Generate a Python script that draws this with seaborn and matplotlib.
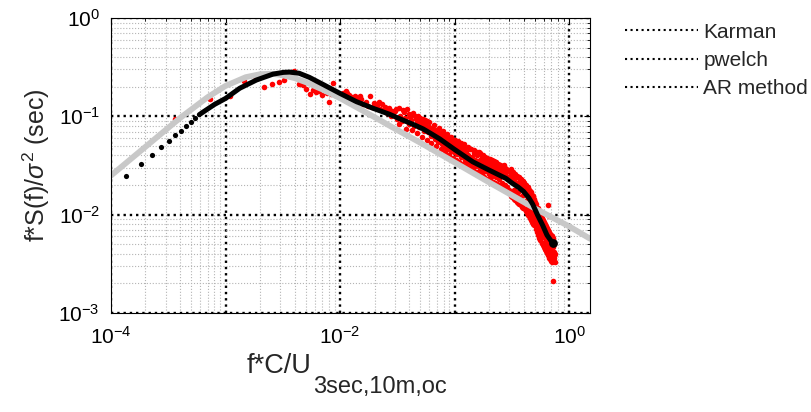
import numpy as np
import matplotlib
matplotlib.use("Agg")
import matplotlib.pyplot as plt
from matplotlib.lines import Line2D
from matplotlib.ticker import LogLocator, FuncFormatter, NullFormatter
import seaborn as sns

# Karman model (grey curve)
karman_f = [1e-4, 2e-4, 4e-4, 7e-4, 1e-3, 1.5e-3, 2e-3, 2.5e-3, 3e-3, 4e-3, 5e-3,
            7e-3, 1e-2, 2e-2, 3e-2, 5e-2, 0.1, 0.2, 0.3, 0.5, 1.0, 1.52]
karman_s = [0.025, 0.049, 0.096, 0.157, 0.204, 0.250, 0.268, 0.271, 0.265, 0.245, 0.223,
            0.188, 0.153, 0.098, 0.075, 0.054, 0.034, 0.0213, 0.0163, 0.0116, 0.0076, 0.0057]

# AR method: separate points at the lowest frequencies ...
ar_dots_f = [1.36e-4, 1.82e-4, 2.27e-4, 2.73e-4, 3.18e-4, 3.64e-4, 4.09e-4, 4.55e-4, 5.0e-4, 5.46e-4]
ar_dots_s = [0.0245, 0.0325, 0.0404, 0.0483, 0.0565, 0.064, 0.0714, 0.079, 0.0875, 0.096]
# ... then points so dense they read as a thick curve
ar_line_f = [5.9e-4, 6.4e-4, 8.0e-4, 1.0e-3, 1.33e-3, 1.86e-3, 2.6e-3, 3.2e-3, 3.63e-3, 4.4e-3,
             5.4e-3, 7.1e-3, 0.010, 0.0139, 0.0193, 0.027, 0.035, 0.0447, 0.053, 0.0625,
             0.074, 0.100, 0.144, 0.200, 0.280, 0.320, 0.360, 0.400, 0.445, 0.480,
             0.530, 0.587, 0.640, 0.720]
ar_line_s = [0.104, 0.111, 0.132, 0.152, 0.193, 0.234, 0.269, 0.280, 0.282, 0.274,
             0.249, 0.211, 0.171, 0.141, 0.121, 0.105, 0.092, 0.0816, 0.0745, 0.0665,
             0.059, 0.046, 0.0345, 0.0284, 0.0234, 0.0208, 0.019, 0.0172, 0.0148, 0.0128,
             0.0099, 0.0078, 0.0062, 0.0051]

# pwelch estimate (red points)
pwelch_f = [
    3.63e-4, 7.26e-4, 1.09e-3, 1.45e-3, 1.82e-3, 2.18e-3, 2.54e-3, 2.90e-3, 3.27e-3, 3.63e-3,
    3.99e-3, 4.36e-3, 4.72e-3, 5.08e-3, 5.45e-3, 5.81e-3, 6.17e-3, 6.53e-3, 6.90e-3, 7.26e-3,
    7.62e-3, 7.99e-3, 8.35e-3, 8.71e-3, 9.08e-3, 9.44e-3, 9.80e-3, 0.0102, 0.0105, 0.0109,
    0.0113, 0.0116, 0.0120, 0.0123, 0.0127, 0.0131, 0.0134, 0.0138, 0.0142, 0.0145,
    0.0149,
    0.0152, 0.0160, 0.0167, 0.0175, 0.0182, 0.0189, 0.0196, 0.0204, 0.0211, 0.0218,
    0.0225, 0.0233, 0.0240, 0.0247, 0.0255, 0.0262, 0.0269, 0.0276, 0.0284, 0.0291,
    0.0300, 0.0312, 0.0324, 0.0336, 0.0348, 0.0360, 0.0372, 0.0384, 0.0396, 0.0408,
    0.0420, 0.0432, 0.0444, 0.0456, 0.0468, 0.0480, 0.0492, 0.0504, 0.0516, 0.0528,
    0.0540, 0.0552, 0.0564, 0.0576, 0.0588,
    0.0600, 0.0617, 0.0634, 0.0651, 0.0668, 0.0685, 0.0702, 0.0719, 0.0736, 0.0753,
    0.0770, 0.0787, 0.0804, 0.0821, 0.0838, 0.0855, 0.0872, 0.0889, 0.0906, 0.0923,
    0.0940, 0.0957, 0.0974, 0.0991, 0.1008, 0.1025, 0.1042, 0.1059, 0.1076, 0.1093,
    0.1110, 0.1127, 0.1144, 0.1161, 0.1178,
    0.120, 0.123, 0.126, 0.129, 0.132, 0.135, 0.138, 0.141, 0.144, 0.147,
    0.150, 0.153, 0.156, 0.159, 0.162, 0.165, 0.168, 0.171, 0.174, 0.177,
    0.180, 0.183, 0.186, 0.189, 0.192, 0.195, 0.198, 0.201, 0.204, 0.207,
    0.210, 0.213, 0.216, 0.219, 0.222, 0.225, 0.228, 0.231, 0.234, 0.237,
    0.240, 0.243, 0.246, 0.249, 0.252,
    0.255, 0.260, 0.264, 0.269, 0.273, 0.278, 0.282, 0.287, 0.292, 0.296,
    0.301, 0.305, 0.310, 0.315, 0.319, 0.324, 0.328, 0.333, 0.338, 0.342,
    0.347, 0.351, 0.356, 0.360, 0.365, 0.370, 0.374, 0.379, 0.383, 0.388,
    0.393, 0.397, 0.402, 0.406, 0.411, 0.416, 0.420, 0.425, 0.429, 0.434,
    0.438, 0.443, 0.448, 0.452, 0.457, 0.461, 0.466, 0.471, 0.475, 0.480,
    0.484, 0.489, 0.494, 0.498,
    0.503, 0.508, 0.514, 0.519, 0.525, 0.530, 0.536, 0.541, 0.547, 0.552,
    0.558, 0.563, 0.569, 0.574, 0.580, 0.585, 0.591, 0.596, 0.602, 0.607,
    0.613, 0.618, 0.624, 0.629, 0.635, 0.640, 0.646, 0.651, 0.657, 0.662,
    0.668, 0.673, 0.679, 0.684, 0.690, 0.695, 0.701, 0.706, 0.712, 0.717,
    0.723, 0.728, 0.734, 0.739, 0.745,
]
pwelch_s = [
    0.095, 0.150, 0.162, 0.229, 0.259, 0.197, 0.213, 0.223, 0.236, 0.275,
    0.289, 0.213, 0.207, 0.188, 0.169, 0.185, 0.178, 0.182, 0.165, 0.193,
    0.174, 0.139, 0.169, 0.216, 0.166, 0.172, 0.161, 0.158, 0.171, 0.166,
    0.182, 0.174, 0.165, 0.150, 0.156, 0.148, 0.161, 0.153, 0.142, 0.149,
    0.161,
    0.149, 0.133, 0.141, 0.127, 0.162, 0.124, 0.136, 0.127, 0.131, 0.141,
    0.118, 0.133, 0.112, 0.125, 0.109, 0.116, 0.122, 0.101, 0.113, 0.104,
    0.112, 0.095, 0.121, 0.101, 0.089, 0.110, 0.097, 0.118, 0.084, 0.099,
    0.091, 0.107, 0.079, 0.094, 0.086, 0.101, 0.077, 0.089, 0.082, 0.095,
    0.071, 0.084, 0.078, 0.090, 0.069,
    0.078, 0.063, 0.074, 0.067, 0.059, 0.072, 0.064, 0.055, 0.068, 0.060,
    0.052, 0.066, 0.058, 0.049, 0.061, 0.054, 0.047, 0.059, 0.051, 0.044,
    0.056, 0.048, 0.053, 0.043, 0.051, 0.046, 0.055, 0.041, 0.049, 0.044,
    0.052, 0.039, 0.047, 0.042, 0.050,
    0.046, 0.036, 0.043, 0.034, 0.040, 0.047, 0.033, 0.039, 0.030, 0.042,
    0.036, 0.031, 0.040, 0.034, 0.043, 0.029, 0.036, 0.032, 0.039, 0.027,
    0.034, 0.030, 0.037, 0.028, 0.033, 0.036, 0.026, 0.031, 0.035, 0.028,
    0.033, 0.025, 0.030, 0.034, 0.027, 0.031, 0.024, 0.029, 0.033, 0.026,
    0.030, 0.023, 0.028, 0.032, 0.025,
    0.030, 0.021, 0.027, 0.032, 0.020, 0.026, 0.029, 0.019, 0.024, 0.028,
    0.018, 0.025, 0.029, 0.017, 0.023, 0.027, 0.018, 0.022, 0.026, 0.016,
    0.021, 0.025, 0.017, 0.020, 0.024, 0.015, 0.021, 0.023, 0.014, 0.019,
    0.022, 0.016, 0.018, 0.021, 0.013, 0.017, 0.020, 0.014, 0.016, 0.019,
    0.012, 0.015, 0.018, 0.011, 0.014, 0.016, 0.012, 0.0145, 0.0105, 0.013,
    0.0155, 0.0098, 0.012, 0.014,
    0.0088, 0.0126, 0.0102, 0.0079, 0.0115, 0.0092, 0.0071, 0.0104, 0.0084, 0.0063,
    0.0097, 0.0076, 0.0058, 0.0089, 0.0069, 0.0052, 0.0083, 0.0064, 0.0048, 0.0078,
    0.0059, 0.0045, 0.0072, 0.0055, 0.0042, 0.0068, 0.0051, 0.0040, 0.0126, 0.0047,
    0.0098, 0.0038, 0.0057, 0.0044, 0.0036, 0.0053, 0.0041, 0.0034, 0.0060, 0.0039,
    0.0021, 0.0047, 0.0036, 0.0042, 0.0033,
]

# pwelch points along the upper and lower edges of the dense band
pwelch_edge_f = [
    0.0306, 0.0330, 0.0354, 0.0378, 0.0402, 0.0426, 0.0450, 0.0474, 0.0498, 0.0522,
    0.0546, 0.0570, 0.0594, 0.0626, 0.0660, 0.0694, 0.0728, 0.0762, 0.0796, 0.0830,
    0.0864, 0.0898, 0.0932, 0.0966, 0.1000, 0.1034, 0.1068, 0.1102, 0.1136, 0.1170,
    0.1215, 0.1260, 0.1305, 0.1350, 0.1395, 0.1440, 0.1485, 0.1530, 0.1575, 0.1620,
    0.1665, 0.1710, 0.1755, 0.1800, 0.1845, 0.1890, 0.1935, 0.1980, 0.2025, 0.2070,
    0.2115, 0.2160, 0.2205, 0.2250, 0.2295, 0.2340, 0.2385, 0.2430, 0.2475, 0.2520,
    0.2565, 0.2610, 0.2655, 0.2700, 0.2745, 0.2790, 0.2835, 0.2880, 0.2925, 0.2970,
    0.3025, 0.3075, 0.3125, 0.3175, 0.3225, 0.3275, 0.3325, 0.3375, 0.3425, 0.3475,
    0.3525, 0.3575, 0.3625, 0.3675, 0.3725, 0.3775, 0.3825, 0.3875, 0.3925, 0.3975,
    0.4025, 0.4075, 0.4125, 0.4175, 0.4225, 0.4275, 0.4325, 0.4375, 0.4425, 0.4475,
    0.4525, 0.4575, 0.4625, 0.4675, 0.4725, 0.4775, 0.4825, 0.4875, 0.4925, 0.4975,
    0.5056, 0.5118, 0.5180, 0.5242, 0.5304, 0.5366, 0.5428, 0.5490, 0.5552, 0.5614,
    0.5676, 0.5738, 0.5800, 0.5862, 0.5924, 0.5986, 0.6048, 0.6110, 0.6172, 0.6234,
    0.6296, 0.6358, 0.6420, 0.6482, 0.6544, 0.6606, 0.6668, 0.6730, 0.6792, 0.6854,
    0.6916, 0.6978, 0.7040, 0.7102, 0.7164, 0.7226, 0.7288, 0.7350, 0.7412, 0.7474,
]
pwelch_edge_s = [
    0.119, 0.083, 0.115, 0.074, 0.106, 0.072, 0.100, 0.067, 0.096, 0.062,
    0.091, 0.058, 0.087, 0.054, 0.081, 0.050, 0.076, 0.046, 0.071, 0.043,
    0.066, 0.040, 0.062, 0.038, 0.058, 0.036, 0.056, 0.034, 0.053, 0.033,
    0.052, 0.031, 0.049, 0.030, 0.047, 0.028, 0.045, 0.027, 0.043, 0.026,
    0.042, 0.025, 0.040, 0.024, 0.039, 0.023, 0.038, 0.023, 0.037, 0.022,
    0.036, 0.0215, 0.035, 0.021, 0.034, 0.0205, 0.033, 0.020, 0.032, 0.0195,
    0.031, 0.019, 0.030, 0.0185, 0.0295, 0.018, 0.029, 0.0175, 0.028, 0.017,
    0.028, 0.0155, 0.027, 0.015, 0.026, 0.0145, 0.0255, 0.014, 0.025, 0.0135,
    0.024, 0.013, 0.0235, 0.0128, 0.023, 0.0125, 0.022, 0.012, 0.0215, 0.0118,
    0.021, 0.0113, 0.020, 0.011, 0.0195, 0.0105, 0.019, 0.010, 0.018, 0.0097,
    0.0175, 0.0093, 0.017, 0.0089, 0.016, 0.0085, 0.0155, 0.0081, 0.0145, 0.0078,
    0.0135, 0.0071, 0.0127, 0.0066, 0.0118, 0.0062, 0.0110, 0.0058, 0.0104, 0.0055,
    0.0099, 0.0052, 0.0093, 0.0049, 0.0088, 0.0047, 0.0084, 0.0045, 0.0080, 0.0043,
    0.0076, 0.0041, 0.0073, 0.0039, 0.0070, 0.0038, 0.0067, 0.0036, 0.0064, 0.0035,
    0.0062, 0.0034, 0.0060, 0.0033, 0.0058, 0.0035, 0.0056, 0.0038, 0.0050, 0.0040,
]

legend_labels = ["Karman", "pwelch", "AR method"]

sns.set_style("white")
plt.rcParams["font.family"] = ["Liberation Sans", "DejaVu Sans"]
plt.rcParams["mathtext.fontset"] = "custom"
plt.rcParams["mathtext.rm"] = "Liberation Sans"
plt.rcParams["mathtext.it"] = "Liberation Sans:italic"
plt.rcParams["mathtext.sf"] = "Liberation Sans"

fig = plt.figure(figsize=(8.12, 4.12), dpi=100)
ax = fig.add_axes([0.1367, 0.2403, 0.5899, 0.7160])
ax.set_xscale("log")
ax.set_yscale("log")

red_f = pwelch_f + pwelch_edge_f
red_s = pwelch_s + pwelch_edge_s

sns.lineplot(x=karman_f, y=karman_s, ax=ax, color="#c8c8c8", lw=4.2,
             sort=False, estimator=None)
sns.scatterplot(x=red_f, y=red_s, ax=ax, color="red", s=16, linewidth=0)
sns.scatterplot(x=ar_dots_f, y=ar_dots_s, ax=ax, color="black", s=14, linewidth=0)
sns.lineplot(x=ar_line_f, y=ar_line_s, ax=ax, color="black", lw=3.6,
             sort=False, estimator=None, solid_capstyle="round", solid_joinstyle="round")
sns.scatterplot(x=ar_line_f[-1:], y=ar_line_s[-1:], ax=ax, color="black", s=40, linewidth=0)

ax.set_xlim(1e-4, 1.52)
ax.set_ylim(1e-3, 1)

ax.xaxis.set_major_locator(LogLocator(base=10, numticks=12))
ax.xaxis.set_minor_locator(LogLocator(base=10, subs=np.arange(2, 10), numticks=100))
ax.yaxis.set_major_locator(LogLocator(base=10, numticks=12))
ax.yaxis.set_minor_locator(LogLocator(base=10, subs=np.arange(2, 10), numticks=100))


def even_decades(v, pos):
    e = int(round(np.log10(v)))
    return f"$10^{{{e}}}$" if e % 2 == 0 else ""


ax.xaxis.set_major_formatter(FuncFormatter(even_decades))
ax.yaxis.set_major_formatter(FuncFormatter(lambda v, p: f"$10^{{{int(round(np.log10(v)))}}}$"))
ax.xaxis.set_minor_formatter(NullFormatter())
ax.yaxis.set_minor_formatter(NullFormatter())

ax.set_axisbelow(True)
ax.grid(True, which="major", color="black", ls=":", lw=1.7)
ax.grid(True, which="minor", color="#b4b4b4", ls=":", lw=0.8)
ax.tick_params(which="both", direction="in", top=True, right=True, labelsize=15, colors="black")
ax.tick_params(which="major", length=4)
ax.tick_params(axis="x", which="major", pad=9)
ax.tick_params(axis="y", which="major", pad=8)
ax.tick_params(which="minor", length=2)
for sp in ax.spines.values():
    sp.set_color("black")
    sp.set_linewidth(0.8)

ax.set_ylabel(r"f*S(f)/$\sigma^2$ (sec)", fontsize=18, labelpad=5)

# x label with a deeply lowered subscript, as in the original
xl_main = fig.text(0.304, 0.0947, "f*C/U", fontsize=19.5, ha="left", va="baseline")
fig.canvas.draw()
bb = xl_main.get_window_extent()
fig.text((bb.x1 + 1) / fig.bbox.width, 0.0450, "3sec,10m,oc", fontsize=17,
         ha="left", va="baseline")

handles = [Line2D([0], [0], color="black", ls=":", lw=1.5) for _ in legend_labels]
fig.legend(handles, legend_labels, loc="upper left", bbox_to_anchor=(0.770, 0.945),
           frameon=False, fontsize=15, handlelength=3.5, handletextpad=0.25,
           labelspacing=0.45, borderpad=0, borderaxespad=0)

fig.savefig("out.png", dpi=100)
